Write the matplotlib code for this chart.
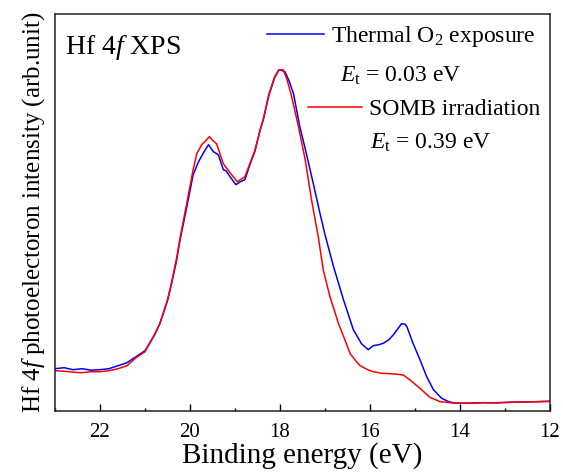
import matplotlib
matplotlib.use("Agg")
import matplotlib.pyplot as plt

# Hf 4f XPS spectra (arb. units)
energy_thermal = [23.0, 22.8, 22.6, 22.4, 22.2, 22.0, 21.8, 21.6, 21.4, 21.2, 21.0, 20.8,
                  20.67, 20.5, 20.41, 20.3, 20.22, 20.07, 19.93, 19.81, 19.70, 19.59, 19.48,
                  19.37, 19.26, 19.20, 19.11, 18.98, 18.88, 18.78, 18.67, 18.56, 18.44, 18.37,
                  18.25, 18.12, 18.02, 17.95, 17.89, 17.80, 17.70, 17.56, 17.44, 17.26, 17.11,
                  17.0, 16.81, 16.59, 16.37, 16.19, 16.04, 15.93, 15.80, 15.70, 15.58, 15.48,
                  15.38, 15.30, 15.22, 15.18, 15.04, 14.89, 14.74, 14.59, 14.41, 14.25, 14.10,
                  13.8, 13.5, 13.2, 12.9, 12.6, 12.3, 12.0]
intensity_thermal = [42, 43, 41, 42, 40.5, 41, 42, 45, 48, 54, 60, 75,
                     87, 110, 127, 150, 171, 204, 236, 249, 258, 266, 259,
                     256, 241, 240, 234, 226, 229, 231, 246, 259, 281, 291,
                     315, 333, 341, 340, 339, 330, 317, 284, 262, 227, 197,
                     176, 144, 111, 81, 67, 61, 65, 66, 67.5, 71, 76,
                     82, 87, 86.5, 84, 67, 51, 34, 21, 12.5, 9, 7.5,
                     7.5, 8, 7.8, 8.5, 8.7, 9, 9.3]

energy_somb = [23.0, 22.8, 22.6, 22.4, 22.2, 22.0, 21.8, 21.6, 21.4, 21.2, 21.0, 20.8,
               20.67, 20.5, 20.41, 20.3, 20.22, 20.07, 19.93, 19.85, 19.74, 19.65, 19.57,
               19.49, 19.41, 19.26, 19.11, 18.95, 18.78, 18.67, 18.56, 18.44, 18.37, 18.25,
               18.12, 18.02, 17.93, 17.85, 17.74, 17.59, 17.44, 17.30, 17.15, 17.04, 16.89,
               16.70, 16.55, 16.44, 16.30, 16.22, 16.05, 15.93, 15.75, 15.56, 15.40, 15.26,
               15.11, 14.89, 14.67, 14.44, 14.14, 13.8, 13.5, 13.2, 12.9, 12.6, 12.3, 12.0]
intensity_somb = [40, 39.5, 38.5, 38, 39, 39, 40, 42, 45, 53, 59, 75,
                  87, 111, 128, 152, 173, 208, 241, 257, 266, 270, 274,
                  270, 267, 247, 238, 229, 234, 247, 260, 281, 292, 316,
                  334, 341, 341, 332, 314, 284, 251, 211, 174, 141, 114,
                  87, 70, 57, 49, 45, 41, 39, 37.5, 37, 36.5, 35.7,
                  30.7, 22.4, 13.4, 9, 7.7, 7.5, 8, 8, 8.3, 8.8, 9, 9.5]

xticks = [22, 20, 18, 16, 14, 12]

plt.rcParams["font.family"] = ["Liberation Serif", "DejaVu Serif"]
plt.rcParams["mathtext.fontset"] = "custom"
plt.rcParams["mathtext.rm"] = "Liberation Serif"
plt.rcParams["mathtext.it"] = "Liberation Serif:italic"

fig = plt.figure(figsize=(5.63, 4.73), dpi=100)
ax = fig.add_axes([55 / 563, 62.3 / 473, 495 / 563, 396.7 / 473])

l_th, = ax.plot(energy_thermal, intensity_thermal, color="#0000ff", lw=1.1)
l_so, = ax.plot(energy_somb, intensity_somb, color="#ff0000", lw=1.1)

ax.set_xlim(23, 12)
ax.set_ylim(0, 396.7)
ax.set_xticks(xticks)
ax.set_xticks([23, 21, 19, 17, 15, 13], minor=True)
ax.set_yticks([])
ax.tick_params(axis="x", direction="in", length=5, width=1.0, labelsize=15, pad=9)
ax.tick_params(axis="x", which="minor", direction="in", length=2.5, width=1.0)
for s in ax.spines.values():
    s.set_linewidth(1.1)
    s.set_color("#222222")

ax.set_xlabel("Binding energy (eV)", fontsize=21, labelpad=0)
ax.set_ylabel("Hf 4$f$ photoelectoron intensity (arb.unit)", fontsize=18, labelpad=6)

ax.text(0.02, 0.899, "Hf 4$f$ XPS", transform=ax.transAxes, fontsize=20, va="baseline")

leg1 = ax.legend([l_th], ["Thermal O$_2$ exposure"], loc="center left",
                 bbox_to_anchor=(0.428, 0.943), frameon=False, fontsize=17,
                 handlelength=2.4, handletextpad=0.3, borderpad=0, borderaxespad=0)
ax.add_artist(leg1)
ax.legend([l_so], ["SOMB irradiation"], loc="center left",
          bbox_to_anchor=(0.511, 0.760), frameon=False, fontsize=17,
          handlelength=2.3, handletextpad=0.3, borderpad=0, borderaxespad=0)

ax.text(0.576, 0.829, "$E_\\mathrm{t}$ = 0.03 eV", transform=ax.transAxes, fontsize=17, va="baseline")
ax.text(0.636, 0.661, "$E_\\mathrm{t}$ = 0.39 eV", transform=ax.transAxes, fontsize=17, va="baseline")

fig.savefig("out.png", dpi=100)
